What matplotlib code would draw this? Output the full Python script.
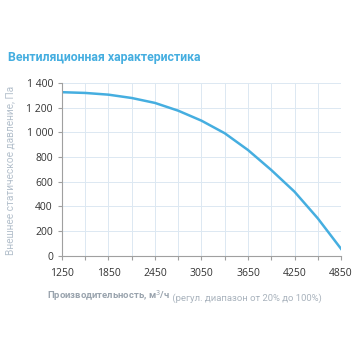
import matplotlib.pyplot as plt
import numpy as np

# flow, m3/h and external static pressure, Pa
flow = [1250, 1550, 1850, 2150, 2450, 2750, 3050, 3350, 3650, 3950, 4250, 4550, 4850]
pressure = [1325, 1319, 1305, 1278, 1238, 1175, 1094, 992, 856, 694, 518, 302, 55]

x_ticks = [1250, 1850, 2450, 3050, 3650, 4250, 4850]
y_ticks = [0, 200, 400, 600, 800, 1000, 1200, 1400]
y_labels = ['0', '200', '400', '600', '800', '1 000', '1 200', '1 400']

blue = '#45aee0'

fig = plt.figure(figsize=(3.56, 3.56), dpi=100)
ax = fig.add_axes([0.174, 0.282, 0.784, 0.485])

ax.plot(flow, pressure, color=blue, lw=1.8, solid_joinstyle='round')

ax.set_xlim(1250, 4850)
ax.set_ylim(0, 1400)
ax.set_xticks(x_ticks)
ax.set_xticks(np.arange(1250, 4851, 300), minor=True)
ax.set_yticks(y_ticks)
ax.set_yticklabels(y_labels)
ax.grid(True, which='both', color='#dce8f2', lw=0.7)
ax.set_axisbelow(True)

for s in ['top', 'right']:
    ax.spines[s].set_visible(False)
for s in ['left', 'bottom']:
    ax.spines[s].set_color('#a0a0a0')
    ax.spines[s].set_linewidth(0.8)

ax.tick_params(axis='both', which='both', colors='#a0a0a0', length=3, width=0.8,
               labelcolor='#333333', labelsize=7.5)
ax.tick_params(axis='x', pad=6)
for lab in ax.get_xticklabels() + ax.get_yticklabels():
    lab.set_family('Open Sans')

fig.text(0.022, 0.838, 'Вентиляционная характеристика', color=blue,
         fontsize=8.9, fontweight='bold', family='Roboto', va='center')

fig.text(0.028, 0.52, 'Внешнее статическое давление, Па', color='#b4c0cc',
         fontsize=7.3, family='Roboto', rotation=90, ha='center', va='center')

t1 = fig.text(0.132, 0.16, 'Производительность, м$^3$/ч', color='#9aa4ae',
              fontsize=6.8, fontweight='bold', family='Roboto', va='baseline')
ax.annotate(' (регул. диапазон от 20% до 100%)', xy=(1, 0), xycoords=t1,
            color='#a9b3bd', fontsize=6.8, family='Roboto', va='bottom')

fig.savefig('out.png', dpi=100)
